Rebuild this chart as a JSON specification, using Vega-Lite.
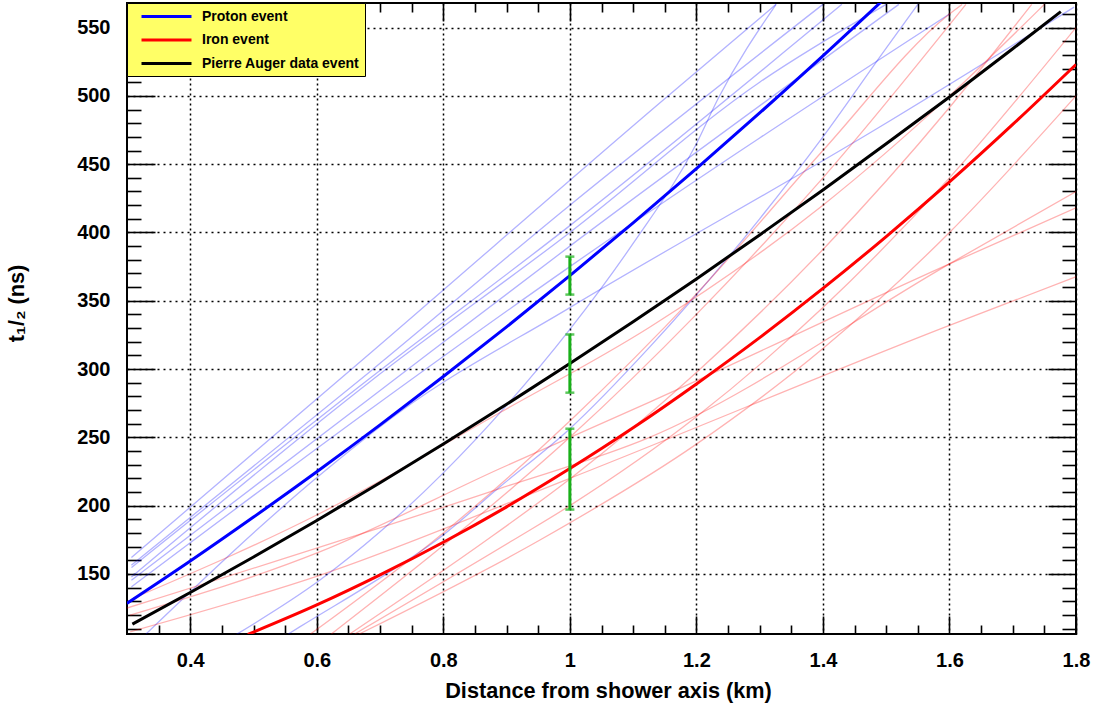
{
  "$schema": "https://vega.github.io/schema/vega-lite/v6.json",
  "width": 949,
  "height": 631,
  "autosize": {"type": "none"},
  "padding": {"left": 127, "top": 3, "right": 21, "bottom": 72},
  "background": "white",
  "config": {
    "view": {"stroke": "black", "strokeWidth": 2},
    "font": "Liberation Sans",
    "axis": {
      "labelFont": "Liberation Sans",
      "labelFontWeight": "bold",
      "labelFontSize": 20,
      "labelColor": "black",
      "titleFont": "Liberation Sans",
      "titleFontWeight": "bold",
      "titleFontSize": 21.7,
      "titleColor": "black",
      "tickColor": "black",
      "tickWidth": 1.6,
      "domain": false,
      "grid": false,
      "labelOverlap": false,
      "labelFlush": false,
      "labelBound": false
    }
  },
  "datasets": {
    "thin": [
      {"id": "p1", "kind": "proton", "x": 0.307, "y": 162},
      {"id": "p1", "kind": "proton", "x": 0.683, "y": 311},
      {"id": "p1", "kind": "proton", "x": 1.149, "y": 497.6},
      {"id": "p1", "kind": "proton", "x": 1.326, "y": 567},
      {"id": "p2", "kind": "proton", "x": 0.307, "y": 156.4},
      {"id": "p2", "kind": "proton", "x": 0.683, "y": 297.7},
      {"id": "p2", "kind": "proton", "x": 1.0, "y": 420},
      {"id": "p2", "kind": "proton", "x": 1.4, "y": 567},
      {"id": "p3", "kind": "proton", "x": 0.307, "y": 154.7},
      {"id": "p3", "kind": "proton", "x": 0.683, "y": 292.9},
      {"id": "p3", "kind": "proton", "x": 1.0, "y": 405},
      {"id": "p3", "kind": "proton", "x": 1.43, "y": 567},
      {"id": "p4", "kind": "proton", "x": 0.307, "y": 147.8},
      {"id": "p4", "kind": "proton", "x": 0.683, "y": 290.4},
      {"id": "p4", "kind": "proton", "x": 1.0, "y": 400},
      {"id": "p4", "kind": "proton", "x": 1.3, "y": 510},
      {"id": "p4", "kind": "proton", "x": 1.5, "y": 567},
      {"id": "p5", "kind": "proton", "x": 0.307, "y": 145.4},
      {"id": "p5", "kind": "proton", "x": 0.683, "y": 278.3},
      {"id": "p5", "kind": "proton", "x": 1.0, "y": 390},
      {"id": "p5", "kind": "proton", "x": 1.52, "y": 567},
      {"id": "p6", "kind": "proton", "x": 0.307, "y": 140.5},
      {"id": "p6", "kind": "proton", "x": 0.683, "y": 270},
      {"id": "p6", "kind": "proton", "x": 1.0, "y": 375},
      {"id": "p6", "kind": "proton", "x": 1.6, "y": 560},
      {"id": "p7", "kind": "proton", "x": 0.33, "y": 106},
      {"id": "p7", "kind": "proton", "x": 0.604, "y": 222},
      {"id": "p7", "kind": "proton", "x": 0.731, "y": 268.5},
      {"id": "p7", "kind": "proton", "x": 1.0, "y": 345},
      {"id": "p7", "kind": "proton", "x": 1.489, "y": 477},
      {"id": "p7", "kind": "proton", "x": 1.797, "y": 565},
      {"id": "p8", "kind": "proton", "x": 0.555, "y": 106},
      {"id": "p8", "kind": "proton", "x": 0.573, "y": 111.2},
      {"id": "p8", "kind": "proton", "x": 0.715, "y": 151.5},
      {"id": "p8", "kind": "proton", "x": 0.789, "y": 174.6},
      {"id": "p8", "kind": "proton", "x": 0.889, "y": 213.6},
      {"id": "p8", "kind": "proton", "x": 1.0, "y": 256.3},
      {"id": "p8", "kind": "proton", "x": 1.126, "y": 316},
      {"id": "p8", "kind": "proton", "x": 1.3, "y": 410},
      {"id": "p8", "kind": "proton", "x": 1.4, "y": 470},
      {"id": "p8", "kind": "proton", "x": 1.5, "y": 535},
      {"id": "p8", "kind": "proton", "x": 1.55, "y": 567},
      {"id": "p9", "kind": "proton", "x": 0.473, "y": 105.7},
      {"id": "p9", "kind": "proton", "x": 0.6045, "y": 145.3},
      {"id": "p9", "kind": "proton", "x": 0.7, "y": 180.8},
      {"id": "p9", "kind": "proton", "x": 0.8, "y": 224},
      {"id": "p9", "kind": "proton", "x": 0.9, "y": 273.4},
      {"id": "p9", "kind": "proton", "x": 1.0, "y": 329},
      {"id": "p9", "kind": "proton", "x": 1.1, "y": 392},
      {"id": "p9", "kind": "proton", "x": 1.2, "y": 465},
      {"id": "p9", "kind": "proton", "x": 1.234, "y": 497.7},
      {"id": "p9", "kind": "proton", "x": 1.326, "y": 567},
      {"id": "f1", "kind": "iron", "x": 0.305, "y": 107.6},
      {"id": "f1", "kind": "iron", "x": 0.6045, "y": 149},
      {"id": "f1", "kind": "iron", "x": 1.0, "y": 220},
      {"id": "f1", "kind": "iron", "x": 1.6, "y": 332},
      {"id": "f1", "kind": "iron", "x": 1.8, "y": 367.5},
      {"id": "f2", "kind": "iron", "x": 0.305, "y": 119.8},
      {"id": "f2", "kind": "iron", "x": 0.6045, "y": 166.1},
      {"id": "f2", "kind": "iron", "x": 0.889, "y": 227},
      {"id": "f2", "kind": "iron", "x": 1.126, "y": 275.8},
      {"id": "f2", "kind": "iron", "x": 1.6, "y": 377},
      {"id": "f2", "kind": "iron", "x": 1.8, "y": 418},
      {"id": "f3", "kind": "iron", "x": 0.3, "y": 125},
      {"id": "f3", "kind": "iron", "x": 0.889, "y": 212.5},
      {"id": "f3", "kind": "iron", "x": 1.126, "y": 250},
      {"id": "f3", "kind": "iron", "x": 1.6, "y": 377},
      {"id": "f3", "kind": "iron", "x": 1.8, "y": 430},
      {"id": "f4", "kind": "iron", "x": 0.31, "y": 132.2},
      {"id": "f4", "kind": "iron", "x": 0.6045, "y": 194.2},
      {"id": "f4", "kind": "iron", "x": 0.889, "y": 268},
      {"id": "f4", "kind": "iron", "x": 1.126, "y": 330.6},
      {"id": "f4", "kind": "iron", "x": 1.4, "y": 420},
      {"id": "f4", "kind": "iron", "x": 1.6, "y": 500},
      {"id": "f4", "kind": "iron", "x": 1.75, "y": 567},
      {"id": "f5", "kind": "iron", "x": 0.623, "y": 106},
      {"id": "f5", "kind": "iron", "x": 0.81, "y": 174.6},
      {"id": "f5", "kind": "iron", "x": 1.0, "y": 250},
      {"id": "f5", "kind": "iron", "x": 1.2, "y": 340},
      {"id": "f5", "kind": "iron", "x": 1.4, "y": 440},
      {"id": "f5", "kind": "iron", "x": 1.626, "y": 567},
      {"id": "f6", "kind": "iron", "x": 0.652, "y": 106},
      {"id": "f6", "kind": "iron", "x": 0.868, "y": 174.6},
      {"id": "f6", "kind": "iron", "x": 1.0, "y": 219.5},
      {"id": "f6", "kind": "iron", "x": 1.2, "y": 297.5},
      {"id": "f6", "kind": "iron", "x": 1.4, "y": 387.5},
      {"id": "f6", "kind": "iron", "x": 1.6, "y": 491.5},
      {"id": "f6", "kind": "iron", "x": 1.73, "y": 567},
      {"id": "f7", "kind": "iron", "x": 0.66, "y": 106},
      {"id": "f7", "kind": "iron", "x": 0.91, "y": 174.6},
      {"id": "f7", "kind": "iron", "x": 1.0, "y": 200},
      {"id": "f7", "kind": "iron", "x": 1.2, "y": 265},
      {"id": "f7", "kind": "iron", "x": 1.4, "y": 345},
      {"id": "f7", "kind": "iron", "x": 1.6, "y": 440},
      {"id": "f7", "kind": "iron", "x": 1.8, "y": 550},
      {"id": "f8", "kind": "iron", "x": 0.667, "y": 106},
      {"id": "f8", "kind": "iron", "x": 0.952, "y": 174.6},
      {"id": "f8", "kind": "iron", "x": 1.2, "y": 245},
      {"id": "f8", "kind": "iron", "x": 1.4, "y": 315},
      {"id": "f8", "kind": "iron", "x": 1.6, "y": 400},
      {"id": "f8", "kind": "iron", "x": 1.8, "y": 500},
      {"id": "f9", "kind": "iron", "x": 0.59, "y": 106},
      {"id": "f9", "kind": "iron", "x": 0.8, "y": 180},
      {"id": "f9", "kind": "iron", "x": 1.0, "y": 262},
      {"id": "f9", "kind": "iron", "x": 1.2, "y": 355},
      {"id": "f9", "kind": "iron", "x": 1.4, "y": 460},
      {"id": "f9", "kind": "iron", "x": 1.6, "y": 560},
      {"id": "f9", "kind": "iron", "x": 1.62, "y": 567}
    ],
    "main": [
      {"series": "Proton event", "x": 0.3, "y": 128.4},
      {"series": "Proton event", "x": 0.4, "y": 159.4},
      {"series": "Proton event", "x": 0.5, "y": 191.6},
      {"series": "Proton event", "x": 0.6, "y": 224.8},
      {"series": "Proton event", "x": 0.7, "y": 259.1},
      {"series": "Proton event", "x": 0.8, "y": 294.5},
      {"series": "Proton event", "x": 0.9, "y": 330.9},
      {"series": "Proton event", "x": 1.0, "y": 368.4},
      {"series": "Proton event", "x": 1.1, "y": 407.0},
      {"series": "Proton event", "x": 1.2, "y": 446.7},
      {"series": "Proton event", "x": 1.3, "y": 487.5},
      {"series": "Proton event", "x": 1.4, "y": 529.3},
      {"series": "Proton event", "x": 1.5, "y": 572.3},
      {"series": "Iron event", "x": 0.491, "y": 105.7},
      {"series": "Iron event", "x": 0.6, "y": 127.3},
      {"series": "Iron event", "x": 0.7, "y": 149.3},
      {"series": "Iron event", "x": 0.8, "y": 173.2},
      {"series": "Iron event", "x": 0.9, "y": 199.1},
      {"series": "Iron event", "x": 1.0, "y": 227.1},
      {"series": "Iron event", "x": 1.1, "y": 257.0},
      {"series": "Iron event", "x": 1.2, "y": 289.1},
      {"series": "Iron event", "x": 1.3, "y": 323.0},
      {"series": "Iron event", "x": 1.4, "y": 359.0},
      {"series": "Iron event", "x": 1.5, "y": 397.0},
      {"series": "Iron event", "x": 1.6, "y": 437.0},
      {"series": "Iron event", "x": 1.7, "y": 479.1},
      {"series": "Iron event", "x": 1.8, "y": 523.0},
      {"series": "Pierre Auger data event", "x": 0.3085, "y": 113.2},
      {"series": "Pierre Auger data event", "x": 0.4, "y": 136.4},
      {"series": "Pierre Auger data event", "x": 0.5, "y": 162.4},
      {"series": "Pierre Auger data event", "x": 0.6, "y": 189.1},
      {"series": "Pierre Auger data event", "x": 0.7, "y": 216.7},
      {"series": "Pierre Auger data event", "x": 0.8, "y": 245.1},
      {"series": "Pierre Auger data event", "x": 0.9, "y": 274.2},
      {"series": "Pierre Auger data event", "x": 1.0, "y": 304.1},
      {"series": "Pierre Auger data event", "x": 1.1, "y": 334.6},
      {"series": "Pierre Auger data event", "x": 1.2, "y": 366.0},
      {"series": "Pierre Auger data event", "x": 1.3, "y": 398.2},
      {"series": "Pierre Auger data event", "x": 1.4, "y": 431.1},
      {"series": "Pierre Auger data event", "x": 1.5, "y": 464.9},
      {"series": "Pierre Auger data event", "x": 1.6, "y": 499.2},
      {"series": "Pierre Auger data event", "x": 1.7, "y": 534.5},
      {"series": "Pierre Auger data event", "x": 1.776, "y": 561.7}
    ],
    "bars": [
      {"x": 1.0, "y": 227.1, "lo": 197.1, "hi": 256.3},
      {"x": 1.0, "y": 304.1, "lo": 282.7, "hi": 325.3},
      {"x": 1.0, "y": 368.4, "lo": 354.5, "hi": 382.3}
    ]
  },
  "resolve": {"axis": {"x": "independent", "y": "independent"}},
  "layer": [
    {
      "data": {"name": "thin"},
      "transform": [{"filter": "datum.kind === 'proton'"}],
      "mark": {"type": "line", "clip": true, "color": "#0000ff", "opacity": 0.3, "strokeWidth": 1.3, "interpolate": "monotone"},
      "encoding": {
        "x": {
          "field": "x", "type": "quantitative",
          "scale": {"domain": [0.3, 1.8], "nice": false, "zero": false},
          "axis": {
            "orient": "bottom", "offset": -18, "tickSize": 18,
            "title": "Distance from shower axis (km)", "titlePadding": 10, "titleX": 481,
            "values": [0.4, 0.6, 0.8, 1.0, 1.2, 1.4, 1.6, 1.8],
            "format": ".1~f", "labelPadding": 16,
            "grid": true, "gridColor": "black", "gridDash": [2, 3], "gridWidth": 1.5
          }
        },
        "y": {
          "field": "y", "type": "quantitative",
          "scale": {"domain": [106, 568], "nice": false, "zero": false},
          "axis": {
            "orient": "left", "offset": -28, "tickSize": 28,
            "title": "t₁/₂ (ns)", "titlePadding": 48, "titleY": 300,
            "values": [150, 200, 250, 300, 350, 400, 450, 500, 550],
            "labelPadding": 17,
            "grid": true, "gridColor": "black", "gridDash": [2, 4], "gridWidth": 1.5
          }
        },
        "detail": {"field": "id"}
      }
    },
    {
      "data": {"name": "thin"},
      "transform": [{"filter": "datum.kind === 'iron'"}],
      "mark": {"type": "line", "clip": true, "color": "#ff0000", "opacity": 0.3, "strokeWidth": 1.3, "interpolate": "monotone"},
      "encoding": {
        "x": {
          "field": "x", "type": "quantitative",
          "axis": {
            "orient": "top", "offset": -18, "tickSize": 18, "title": null, "labels": false,
            "values": [0.4, 0.6, 0.8, 1.0, 1.2, 1.4, 1.6]
          }
        },
        "y": {
          "field": "y", "type": "quantitative",
          "axis": {
            "orient": "right", "offset": -28, "tickSize": 28, "title": null, "labels": false,
            "values": [150, 200, 250, 300, 350, 400, 450, 500, 550]
          }
        },
        "detail": {"field": "id"}
      }
    },
    {
      "data": {"name": "main"},
      "mark": {"type": "line", "clip": true, "strokeWidth": 3, "interpolate": "monotone"},
      "encoding": {
        "x": {
          "field": "x", "type": "quantitative",
          "axis": {
            "orient": "bottom", "offset": -9, "tickSize": 9, "title": null, "labels": false,
            "values": [0.35, 0.45, 0.5, 0.55, 0.65, 0.7, 0.75, 0.85, 0.9, 0.95, 1.05, 1.1, 1.15, 1.25, 1.3, 1.35, 1.45, 1.5, 1.55, 1.65, 1.7, 1.75]
          }
        },
        "y": {
          "field": "y", "type": "quantitative",
          "axis": {
            "orient": "left", "offset": -14, "tickSize": 14, "title": null, "labels": false,
            "values": [110, 120, 130, 140, 160, 170, 180, 190, 210, 220, 230, 240, 260, 270, 280, 290, 310, 320, 330, 340, 360, 370, 380, 390, 410, 420, 430, 440, 460, 470, 480, 490, 510, 520, 530, 540, 560]
          }
        },
        "color": {
          "field": "series", "type": "nominal",
          "scale": {"domain": ["Proton event", "Iron event", "Pierre Auger data event"], "range": ["#0000ff", "#ff0000", "#000000"]},
          "legend": {
            "title": null,
            "orient": "top-left",
            "offset": 0,
            "fillColor": "#ffff66",
            "strokeColor": "black",
            "padding": 5,
            "rowPadding": 7.5,
            "symbolType": "M-3.57,0H3.57",
            "symbolSize": 196,
            "symbolOffset": 26,
            "symbolStrokeWidth": 3,
            "labelOffset": 27,
            "labelFont": "Liberation Sans",
            "labelFontWeight": "bold",
            "labelFontSize": 14,
            "labelColor": "black",
            "labelLimit": 400
          }
        }
      }
    },
    {
      "data": {"name": "bars"},
      "mark": {"type": "rule", "color": "#19b019", "strokeWidth": 3},
      "encoding": {
        "x": {
          "field": "x", "type": "quantitative",
          "axis": {
            "orient": "top", "offset": -9, "tickSize": 9, "title": null, "labels": false,
            "values": [0.35, 0.45, 0.5, 0.55, 0.65, 0.7, 0.75, 0.85, 0.9, 0.95, 1.05, 1.1, 1.15, 1.25, 1.3, 1.35, 1.45, 1.5, 1.55, 1.65, 1.7, 1.75]
          }
        },
        "y": {
          "field": "lo", "type": "quantitative",
          "axis": {
            "orient": "right", "offset": -14, "tickSize": 14, "title": null, "labels": false,
            "values": [110, 120, 130, 140, 160, 170, 180, 190, 210, 220, 230, 240, 260, 270, 280, 290, 310, 320, 330, 340, 360, 370, 380, 390, 410, 420, 430, 440, 460, 470, 480, 490, 510, 520, 530, 540, 560]
          }
        },
        "y2": {"field": "hi"}
      }
    },
    {
      "data": {"name": "bars"},
      "transform": [{"fold": ["lo", "hi"], "as": ["end", "v"]}],
      "mark": {"type": "tick", "orient": "horizontal", "color": "#19b019", "size": 9, "thickness": 2.5},
      "encoding": {
        "x": {"field": "x", "type": "quantitative", "axis": null},
        "y": {"field": "v", "type": "quantitative", "axis": null}
      }
    }
  ]
}
